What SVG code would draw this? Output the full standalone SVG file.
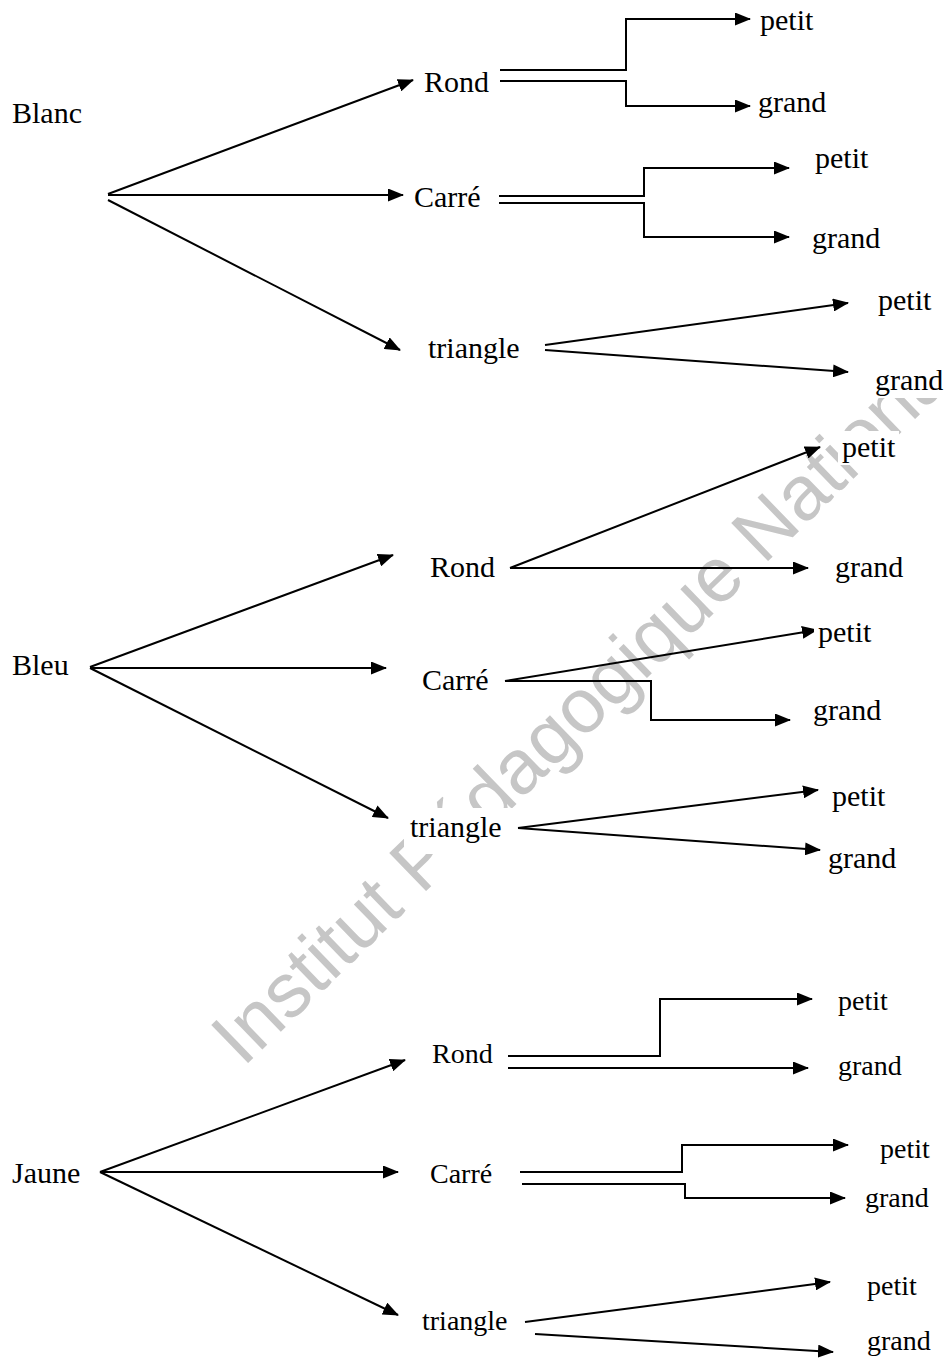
<svg xmlns="http://www.w3.org/2000/svg" width="951" height="1359" viewBox="0 0 951 1359">
  <defs>
    <marker id="arrow" viewBox="0 0 16 13" refX="15" refY="6.5" markerWidth="16" markerHeight="13" markerUnits="userSpaceOnUse" orient="auto">
      <path d="M0,0 L16,6.5 L0,13 z" fill="#000"/>
    </marker>
    <style>
      .lbl { font-family: "Liberation Serif", "Times New Roman", serif; font-size: 30px; fill: #000; }
      .sm { font-size: 28px; }
      .bg { fill: #fff; }
      .wm { font-family: "Liberation Sans", Arial, sans-serif; font-size: 77px; fill: #c6c6c6; }
      .ln { fill: none; stroke: #000; stroke-width: 2; }
      .ar { marker-end: url(#arrow); }
    </style>
  </defs>
  <rect width="951" height="1359" fill="#fff"/>

  <!-- background watermark, partly masked by the label boxes -->
  <text class="wm" transform="translate(243,1068) rotate(-44)">Institut Pédagogique National</text>

  <!-- connectors -->
  <g id="connectors">
    <!-- Blanc -->
    <path class="ln ar" d="M108,194 L413,80"/>
    <path class="ln ar" d="M108,195 L403,195"/>
    <path class="ln ar" d="M108,200 L400,350"/>
    <path class="ln ar" d="M500,70 H626 V19 H750"/>
    <path class="ln ar" d="M500,81 H626 V106 H750"/>
    <path class="ln ar" d="M499,196 H644 V168 H789"/>
    <path class="ln ar" d="M499,203 H644 V237 H789"/>
    <path class="ln ar" d="M545,345 L848,303"/>
    <path class="ln ar" d="M545,350 L848,372"/>
    <!-- Bleu -->
    <path class="ln ar" d="M90,667 L393,555"/>
    <path class="ln ar" d="M90,668 H386"/>
    <path class="ln ar" d="M90,668 L388,818"/>
    <path class="ln ar" d="M510,568 L820,447"/>
    <path class="ln ar" d="M510,568 H808"/>
    <path class="ln ar" d="M505,681 L817,630"/>
    <path class="ln ar" d="M505,681 H651 V720 H790"/>
    <path class="ln ar" d="M518,828 L818,790"/>
    <path class="ln ar" d="M518,828 L820,850"/>
    <!-- Jaune -->
    <path class="ln ar" d="M100,1172 L405,1060"/>
    <path class="ln ar" d="M100,1172 H398"/>
    <path class="ln ar" d="M100,1172 L398,1315"/>
    <path class="ln ar" d="M508,1056 H660 V999 H812"/>
    <path class="ln ar" d="M508,1068 H808"/>
    <path class="ln ar" d="M520,1172 H682 V1145 H848"/>
    <path class="ln ar" d="M522,1184 H685 V1198 H845"/>
    <path class="ln ar" d="M525,1322 L830,1282"/>
    <path class="ln ar" d="M535,1334 L833,1352"/>
  </g>

  <!-- Blanc tree -->
  <g id="blanc"><rect class="bg" x="8" y="97" width="78" height="34"/><text class="lbl" x="12" y="123">Blanc</text></g>
  <g id="blanc-rond"><rect class="bg" x="420" y="66" width="73" height="34"/><text class="lbl" x="424" y="92">Rond</text></g>
  <g id="blanc-rond-petit"><rect class="bg" x="756" y="4" width="61" height="34"/><text class="lbl" x="760" y="30">petit</text></g>
  <g id="blanc-rond-grand"><rect class="bg" x="754" y="86" width="76" height="34"/><text class="lbl" x="758" y="112">grand</text></g>
  <g id="blanc-carre"><rect class="bg" x="410" y="181" width="75" height="34"/><text class="lbl" x="414" y="207">Carré</text></g>
  <g id="blanc-carre-petit"><rect class="bg" x="811" y="142" width="61" height="34"/><text class="lbl" x="815" y="168">petit</text></g>
  <g id="blanc-carre-grand"><rect class="bg" x="808" y="222" width="76" height="34"/><text class="lbl" x="812" y="248">grand</text></g>
  <g id="blanc-triangle"><rect class="bg" x="424" y="332" width="100" height="34"/><text class="lbl" x="428" y="358">triangle</text></g>
  <g id="blanc-triangle-petit"><rect class="bg" x="874" y="284" width="77" height="40"/><text class="lbl" x="878" y="310">petit</text></g>
  <g id="blanc-triangle-grand"><rect class="bg" x="868" y="324" width="83" height="74"/><text class="lbl" x="875" y="390">grand</text></g>

  <!-- Bleu tree -->
  <g id="bleu"><rect class="bg" x="8" y="649" width="65" height="34"/><text class="lbl" x="12" y="675">Bleu</text></g>
  <g id="bleu-rond"><rect class="bg" x="426" y="551" width="73" height="34"/><text class="lbl" x="430" y="577">Rond</text></g>
  <g id="bleu-rond-petit"><rect class="bg" x="838" y="431" width="61" height="34"/><text class="lbl" x="842" y="457">petit</text></g>
  <g id="bleu-rond-grand"><rect class="bg" x="831" y="551" width="76" height="34"/><text class="lbl" x="835" y="577">grand</text></g>
  <g id="bleu-carre"><rect class="bg" x="418" y="664" width="75" height="34"/><text class="lbl" x="422" y="690">Carré</text></g>
  <g id="bleu-carre-petit"><rect class="bg" x="814" y="616" width="61" height="34"/><text class="lbl" x="818" y="642">petit</text></g>
  <g id="bleu-carre-grand"><rect class="bg" x="809" y="694" width="76" height="34"/><text class="lbl" x="813" y="720">grand</text></g>
  <g id="bleu-triangle"><rect class="bg" x="404" y="808" width="112" height="46"/><text class="lbl" x="410" y="837">triangle</text></g>
  <g id="bleu-triangle-petit"><rect class="bg" x="828" y="780" width="61" height="34"/><text class="lbl" x="832" y="806">petit</text></g>
  <g id="bleu-triangle-grand"><rect class="bg" x="824" y="842" width="76" height="34"/><text class="lbl" x="828" y="868">grand</text></g>

  <!-- Jaune tree -->
  <g id="jaune"><rect class="bg" x="8" y="1157" width="76" height="34"/><text class="lbl" x="12" y="1183">Jaune</text></g>
  <g id="jaune-rond"><rect class="bg" x="428" y="1038" width="68" height="32"/><text class="lbl sm" x="432" y="1063">Rond</text></g>
  <g id="jaune-rond-petit"><rect class="bg" x="834" y="985" width="58" height="32"/><text class="lbl sm" x="838" y="1010">petit</text></g>
  <g id="jaune-rond-grand"><rect class="bg" x="834" y="1050" width="72" height="32"/><text class="lbl sm" x="838" y="1075">grand</text></g>
  <g id="jaune-carre"><rect class="bg" x="426" y="1158" width="70" height="32"/><text class="lbl sm" x="430" y="1183">Carré</text></g>
  <g id="jaune-carre-petit"><rect class="bg" x="876" y="1133" width="58" height="32"/><text class="lbl sm" x="880" y="1158">petit</text></g>
  <g id="jaune-carre-grand"><rect class="bg" x="861" y="1182" width="72" height="32"/><text class="lbl sm" x="865" y="1207">grand</text></g>
  <g id="jaune-triangle"><rect class="bg" x="418" y="1305" width="94" height="32"/><text class="lbl sm" x="422" y="1330">triangle</text></g>
  <g id="jaune-triangle-petit"><rect class="bg" x="863" y="1270" width="58" height="32"/><text class="lbl sm" x="867" y="1295">petit</text></g>
  <g id="jaune-triangle-grand"><rect class="bg" x="863" y="1325" width="72" height="32"/><text class="lbl sm" x="867" y="1350">grand</text></g>
</svg>
